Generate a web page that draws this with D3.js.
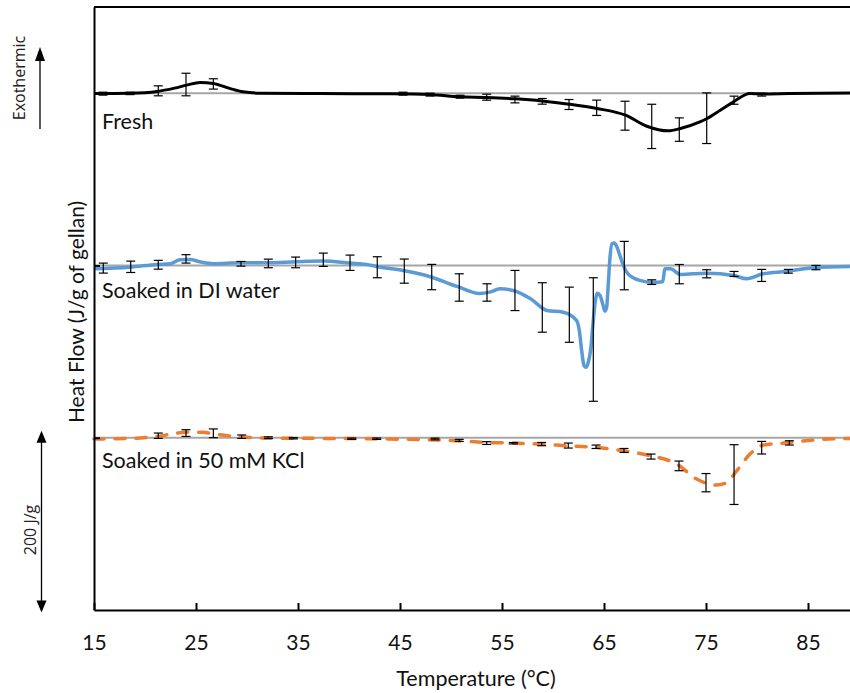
<!DOCTYPE html>
<html>
<head>
<meta charset="utf-8">
<script src="https://cdn.jsdelivr.net/npm/d3@7"></script>
<style>
  body { margin: 0; background: #fff; }
  svg { display: block; font-family: Lato, 'Open Sans', sans-serif; }
</style>
</head>
<body>
<svg id="chart" width="850" height="693"></svg>
<script>
// DSC traces, heat flow in J/g relative to each trace's own baseline
const freshTemp = [15.0, 18.5, 21.2, 22.9, 24.1, 25.4, 26.7, 28.3, 29.6, 31.3, 37.2, 44.0, 47.9, 50.9, 53.5, 56.3, 58.9, 61.6, 64.3, 67.1, 69.2, 71.3, 72.5, 74.4, 75.1, 76.4, 77.7, 79.3, 80.5, 83.2, 89.5];
const freshFlow = [-0.4, 0, 2.0, 5.8, 9.3, 12.4, 11.3, 5.5, 1.5, 0, -0.5, -0.8, -1.5, -4.3, -5.0, -6.6, -9.0, -12.8, -17.8, -25.6, -38.4, -43.8, -41.0, -33.4, -29.4, -19.8, -10.1, -0.4, -1.0, -0.5, 0.3];

const diTemp = [15.0, 18.5, 21.2, 22.5, 23.4, 24.4, 25.4, 26.7, 29.3, 31.9, 34.9, 37.5, 40.1, 41.7, 42.7, 45.3, 47.9, 50.6, 52.8, 53.8, 54.8, 56.1, 57.8, 59.4, 61.0,
  62.32, 62.58, 62.81, 63.04, 63.24, 63.46, 63.70, 63.89, 64.12, 64.34, 64.61, 64.87, 65.10, 65.26, 65.42, 65.59, 65.78, 65.98, 66.25, 66.50, 66.83, 67.22, 67.87,
  68.5, 69.8, 70.75, 70.98, 71.5, 72.5, 75.1, 77.7, 79.0, 80.6, 82.9, 85.5, 89.5];
const diFlow = [-3.8, -2.0, 1.2, 2.0, 6.6, 7.0, 4.1, 2.0, 3.1, 3.1, 4.3, 5.0, 2.7, 1.2, -1.2, -5.8, -12.8, -24.4, -32.5, -31.0, -27.1, -29.1, -38.7, -52.3, -54.3,
  -64.0, -75.6, -98.8, -116.3, -118.3, -112.4, -96.9, -71.7, -44.5, -32.2, -34.9, -44.5, -53.1, -48.5, -21.3, 9.7, 25.2, 25.9, 22.1, 13.6, 2.0, -7.8, -14.3,
  -17.4, -19.8, -19.0, -3.8, -3.8, -10.5, -9.0, -11.6, -15.5, -9.7, -7.0, -2.7, -1.2];

const kclTemp = [15.0, 18.85, 21.15, 24.09, 25.72, 26.70, 28.99, 31.60, 37.48, 44.02, 50.56, 53.50, 56.11, 58.73, 61.34, 64.28, 66.89, 69.51, 72.13, 74.09, 76.05, 77.03, 78.01, 79.31, 80.62, 83.24, 85.85, 89.5];
const kclFlow = [-1.5, -0.8, 1.5, 6.2, 6.2, 4.3, 1.2, -0.3, -0.8, -1.5, -3.5, -5.5, -6.2, -7.4, -9.3, -11.3, -15.1, -20.9, -30.6, -48.0, -55.0, -52.0, -38.4, -19.0, -8.6, -5.6, -2.3, -0.8];

// error bars: temperature, mean, standard deviation
const freshErrTemp = [15.88, 18.53, 21.30, 24.02, 26.70, 45.29, 47.94, 50.88, 53.50, 56.27, 58.95, 61.57, 64.28, 67.06, 69.68, 72.38, 75.07, 77.75, 80.46];
const freshErrMean = [-0.6, -0.3, 2.7, 10.0, 10.7, -0.6, -1.7, -4.1, -4.7, -7.4, -9.5, -13.2, -17.0, -26.2, -38.6, -42.3, -29.1, -8.2, -1.7];
const freshErrSd = [1.7, 1.4, 5.8, 13.1, 6.0, 1.7, 1.7, 1.7, 3.5, 3.9, 3.3, 5.8, 8.9, 16.8, 25.7, 13.6, 29.4, 4.7, 1.7];

const diErrTemp = [15.91, 18.60, 21.30, 24.02, 29.41, 32.09, 34.77, 37.48, 40.10, 42.77, 45.42, 48.11, 50.81, 53.53, 56.27, 58.95, 61.60, 63.95, 66.99, 69.68, 72.38, 75.07, 77.75, 80.46, 83.07, 85.78];
const diErrMean = [-3.1, -1.6, 0.8, 7.6, 1.9, 2.3, 3.5, 6.6, 3.1, -2.1, -6.6, -13.5, -25.6, -31.4, -29.1, -48.8, -57.2, -86.0, -0.2, -19.4, -10.1, -9.7, -9.9, -11.6, -6.8, -2.5];
const diErrSd = [5.8, 6.6, 5.1, 4.9, 2.7, 5.0, 6.2, 7.7, 8.9, 12.2, 14.0, 14.7, 15.9, 10.1, 23.3, 28.7, 32.0, 71.7, 28.1, 2.7, 11.2, 4.7, 2.9, 7.0, 2.2, 2.5];

const kclErrTemp = [21.30, 24.02, 26.70, 29.48, 32.09, 34.54, 40.26, 42.72, 48.43, 50.81, 53.50, 56.11, 58.89, 61.50, 64.22, 66.96, 69.61, 72.35, 75.00, 77.75, 80.46, 83.17];
const kclErrMean = [2.3, 5.4, 5.1, 1.2, 0, -0.6, -1.2, -1.2, -1.5, -3.1, -6.2, -6.4, -7.4, -9.1, -10.5, -14.8, -21.9, -32.7, -52.2, -42.8, -11.6, -6.0];
const kclErrSd = [3.1, 3.9, 5.1, 2.0, 1.0, 0.8, 0.8, 0.8, 1.0, 1.2, 1.6, 0.8, 1.9, 2.9, 2.0, 2.3, 2.9, 5.6, 10.6, 34.7, 7.3, 2.5];

const seriesNames = ['Fresh', 'Soaked in DI water', 'Soaked in 50 mM KCl'];
const seriesOffsets = [400, 200, 0]; // traces stacked 200 J/g apart
const xTicks = [15, 25, 35, 45, 55, 65, 75, 85];

const series = [
  { temp: freshTemp, flow: freshFlow, eT: freshErrTemp, eM: freshErrMean, eS: freshErrSd, color: '#000000', dash: null, width: 3 },
  { temp: diTemp, flow: diFlow, eT: diErrTemp, eM: diErrMean, eS: diErrSd, color: '#5b9bd5', dash: null, width: 3.5 },
  { temp: kclTemp, flow: kclFlow, eT: kclErrTemp, eM: kclErrMean, eS: kclErrSd, color: '#ed7d31', dash: '10,11', width: 3.5 },
];

const svg = d3.select('#chart');
const x = d3.scaleLinear().domain([15, 90]).range([94, 859]);
const y = d3.scaleLinear().domain([-200, 500]).range([610, 7]);

// baselines
svg.append('g')
  .selectAll('line')
  .data(seriesOffsets)
  .join('line')
  .attr('x1', x(15)).attr('x2', x(90))
  .attr('y1', (d) => y(d)).attr('y2', (d) => y(d))
  .attr('stroke', '#a6a6a6')
  .attr('stroke-width', 2);

// curves
series.forEach((s, i) => {
  const off = seriesOffsets[i];
  const line = d3.line()
    .x((d) => x(d[0]))
    .y((d) => y(d[1] + off))
    .curve(d3.curveMonotoneX);
  svg.append('path')
    .datum(d3.zip(s.temp, s.flow))
    .attr('d', line)
    .attr('fill', 'none')
    .attr('stroke', s.color)
    .attr('stroke-width', s.width)
    .attr('stroke-linecap', s.dash ? 'round' : 'butt')
    .attr('stroke-dasharray', s.dash);
});

// error bars
series.forEach((s, i) => {
  const off = seriesOffsets[i];
  const g = svg.append('g').attr('stroke', '#000').attr('stroke-width', 1.2);
  const bars = d3.zip(s.eT, s.eM, s.eS);
  bars.forEach(([t, m, sd]) => {
    const cx = x(t);
    const top = y(off + m + sd);
    const bot = y(off + m - sd);
    g.append('line').attr('x1', cx).attr('x2', cx).attr('y1', top).attr('y2', bot);
    g.append('line').attr('x1', cx - 4.5).attr('x2', cx + 4.5).attr('y1', top).attr('y2', top);
    g.append('line').attr('x1', cx - 4.5).attr('x2', cx + 4.5).attr('y1', bot).attr('y2', bot);
  });
});

// series labels
const labelDy = [36, 33, 30];
svg.append('g')
  .selectAll('text')
  .data(seriesNames)
  .join('text')
  .attr('x', x(15) + 8)
  .attr('y', (d, i) => y(seriesOffsets[i]) + labelDy[i])
  .attr('font-size', 21.5)
  .attr('fill', '#111')
  .text((d) => d);

// axes
const xAxis = svg.append('g')
  .attr('transform', `translate(0,${y(-200)})`)
  .call(d3.axisBottom(x).tickValues(xTicks).tickSizeInner(-7).tickSizeOuter(0).tickPadding(25));
xAxis.select('.domain').attr('stroke', '#000').attr('stroke-width', 2);
xAxis.selectAll('.tick line').attr('stroke-width', 2);
xAxis.selectAll('text').attr('font-size', 21).attr('font-family', 'Lato, sans-serif').attr('fill', '#111');

const yAxis = svg.append('g')
  .attr('transform', `translate(${x(15)},0)`)
  .call(d3.axisLeft(y).tickValues(seriesOffsets).tickSizeInner(-6).tickSizeOuter(0).tickFormat(''));
yAxis.select('.domain').attr('stroke', '#000').attr('stroke-width', 2);
yAxis.selectAll('.tick line').attr('stroke-width', 2);

svg.append('line')
  .attr('x1', x(15)).attr('x2', x(90))
  .attr('y1', y(500)).attr('y2', y(500))
  .attr('stroke', '#000').attr('stroke-width', 2);

// axis titles
svg.append('text')
  .attr('x', 476).attr('y', 686)
  .attr('text-anchor', 'middle')
  .attr('font-size', 21.5).attr('fill', '#111')
  .text('Temperature (°C)');

svg.append('text')
  .attr('transform', 'translate(84,312) rotate(-90)')
  .attr('text-anchor', 'middle')
  .attr('font-size', 21).attr('fill', '#111')
  .text('Heat Flow (J/g of gellan)');

// annotations: exothermic direction and 200 J/g scale bar
const ann = svg.append('g').attr('font-family', "'Open Sans', sans-serif");
ann.append('line').attr('x1', 40).attr('x2', 40).attr('y1', 129).attr('y2', 58)
  .attr('stroke', '#000').attr('stroke-width', 1.3);
ann.append('path').attr('d', 'M40,47 L35,61 L45,61 Z').attr('fill', '#000');
ann.append('text')
  .attr('transform', 'translate(25,78) rotate(-90)')
  .attr('text-anchor', 'middle')
  .attr('font-size', 16).attr('fill', '#222')
  .text('Exothermic');

const barTop = y(8);
const barBot = y(-203);
ann.append('line').attr('x1', 41.5).attr('x2', 41.5).attr('y1', barTop + 10).attr('y2', barBot - 10)
  .attr('stroke', '#000').attr('stroke-width', 1.3);
ann.append('path').attr('d', `M41.5,${barTop} L36.5,${barTop + 12} L46.5,${barTop + 12} Z`).attr('fill', '#000');
ann.append('path').attr('d', `M41.5,${barBot} L36.5,${barBot - 12} L46.5,${barBot - 12} Z`).attr('fill', '#000');
ann.append('text')
  .attr('transform', 'translate(36,530) rotate(-90)')
  .attr('text-anchor', 'middle')
  .attr('font-size', 16).attr('fill', '#222')
  .text('200 J/g');
</script>
</body>
</html>
